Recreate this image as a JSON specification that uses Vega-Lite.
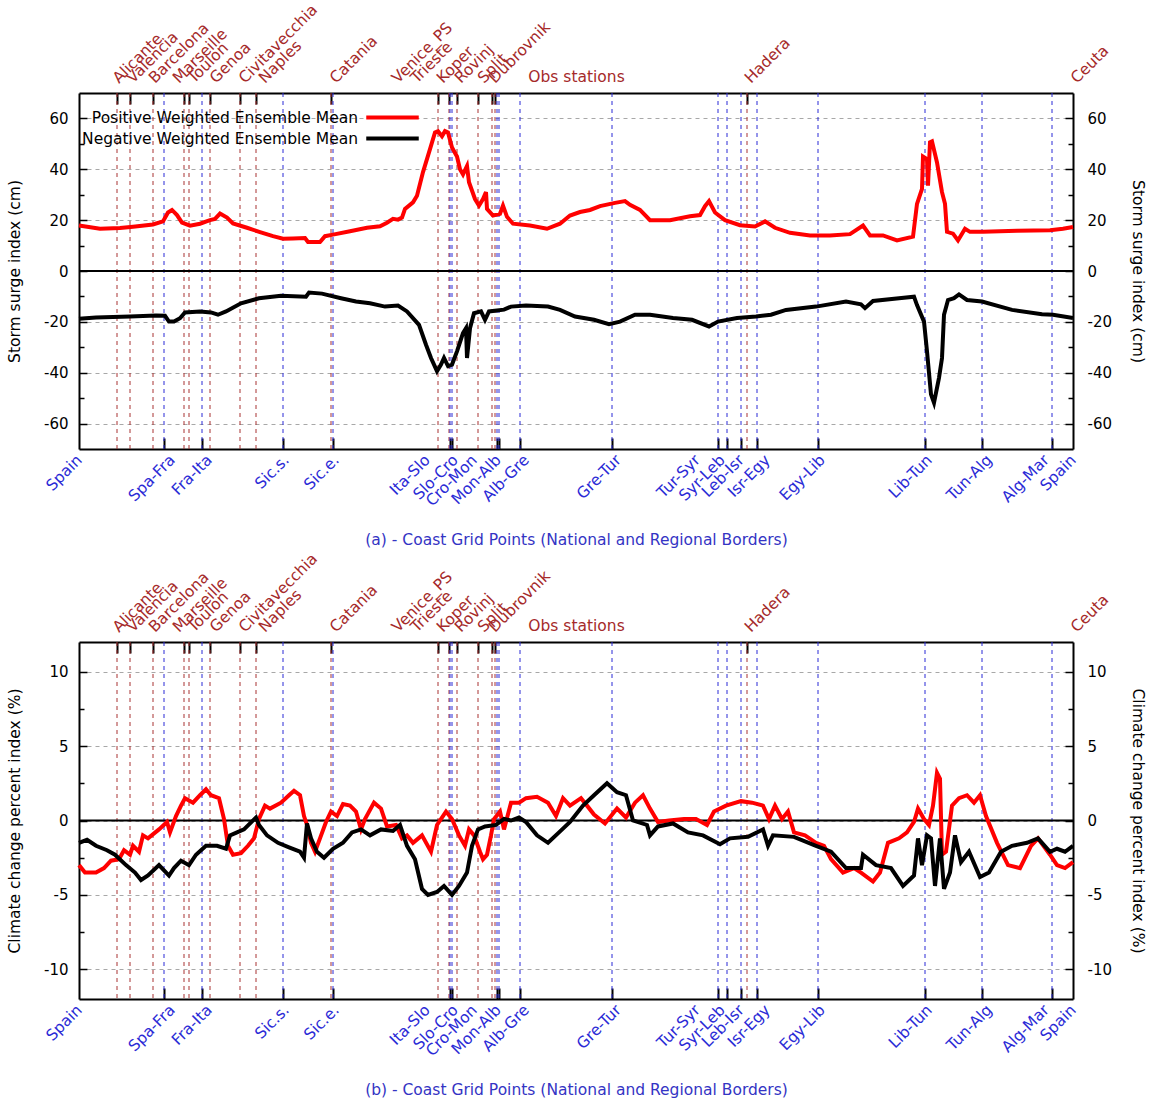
{
"$schema": "https://vega.github.io/schema/vega-lite/v6.json",
"background": "white",
"padding": {"left": 7, "top": 1, "right": 2, "bottom": 2},
"datasets": {
"st": [{"name":"Alicante","gp":38},{"name":"Valencia","gp":51},{"name":"Barcelona","gp":74},{"name":"Marseille","gp":105},{"name":"Toulon","gp":110},{"name":"Genoa","gp":131},{"name":"Civitavecchia","gp":161},{"name":"Naples","gp":177},{"name":"Catania","gp":252},{"name":"Venice_PS","gp":359},{"name":"Trieste","gp":370},{"name":"Koper","gp":378},{"name":"Rovinj","gp":399},{"name":"Split","gp":413},{"name":"Dubrovnik","gp":416},{"name":"Hadera","gp":668}],
"bd": [{"name":"Spa-Fra","gp":85},{"name":"Fra-Ita","gp":123},{"name":"Sic.s.","gp":204},{"name":"Sic.e.","gp":254},{"name":"Ita-Slo","gp":371},{"name":"Slo-Cro","gp":373},{"name":"Cro-Mon","gp":418},{"name":"Mon-Alb","gp":420},{"name":"Alb-Gre","gp":441},{"name":"Gre-Tur","gp":533},{"name":"Tur-Syr","gp":639},{"name":"Syr-Leb","gp":648},{"name":"Leb-Isr","gp":662},{"name":"Isr-Egy","gp":678},{"name":"Egy-Lib","gp":739},{"name":"Lib-Tun","gp":846},{"name":"Tun-Alg","gp":903},{"name":"Alg-Mar","gp":973}],
"a": [
{"s":"P","gp":0,"v":17.9},{"s":"P","gp":21,"v":16.6},{"s":"P","gp":41,"v":16.9},{"s":"P","gp":54,"v":17.4},{"s":"P","gp":74,"v":18.3},{"s":"P","gp":84,"v":19.5},{"s":"P","gp":89,"v":23},{"s":"P","gp":93,"v":24},{"s":"P","gp":98,"v":22},{"s":"P","gp":103,"v":19},{"s":"P","gp":111,"v":17.8},{"s":"P","gp":121,"v":18.6},{"s":"P","gp":131,"v":20},{"s":"P","gp":136,"v":20.5},{"s":"P","gp":141,"v":22.6},{"s":"P","gp":148,"v":21},{"s":"P","gp":154,"v":18.7},{"s":"P","gp":168,"v":17},{"s":"P","gp":181,"v":15.3},{"s":"P","gp":194,"v":13.7},{"s":"P","gp":204,"v":12.7},{"s":"P","gp":214,"v":12.8},{"s":"P","gp":226,"v":13},{"s":"P","gp":229,"v":11.4},{"s":"P","gp":241,"v":11.4},{"s":"P","gp":246,"v":13.7},{"s":"P","gp":254,"v":14.3},{"s":"P","gp":271,"v":15.6},{"s":"P","gp":288,"v":17},{"s":"P","gp":301,"v":17.6},{"s":"P","gp":308,"v":19},{"s":"P","gp":314,"v":20.5},{"s":"P","gp":319,"v":20.2},{"s":"P","gp":323,"v":21},{"s":"P","gp":326,"v":24.4},{"s":"P","gp":334,"v":27},{"s":"P","gp":338,"v":29.6},{"s":"P","gp":344,"v":38.9},{"s":"P","gp":351,"v":47.9},{"s":"P","gp":356,"v":54.5},{"s":"P","gp":359,"v":55},{"s":"P","gp":363,"v":53},{"s":"P","gp":366,"v":55},{"s":"P","gp":369,"v":54.5},{"s":"P","gp":373,"v":48.6},{"s":"P","gp":378,"v":45},{"s":"P","gp":381,"v":40},{"s":"P","gp":384,"v":38},{"s":"P","gp":388,"v":41.3},{"s":"P","gp":390,"v":34.9},{"s":"P","gp":396,"v":28.3},{"s":"P","gp":400,"v":25.7},{"s":"P","gp":404,"v":28.3},{"s":"P","gp":407,"v":31},{"s":"P","gp":408,"v":24.4},{"s":"P","gp":414,"v":21.8},{"s":"P","gp":421,"v":22.5},{"s":"P","gp":424,"v":25.7},{"s":"P","gp":428,"v":21.3},{"s":"P","gp":434,"v":18.6},{"s":"P","gp":451,"v":17.9},{"s":"P","gp":468,"v":16.6},{"s":"P","gp":481,"v":18.6},{"s":"P","gp":491,"v":21.8},{"s":"P","gp":501,"v":23.2},{"s":"P","gp":511,"v":24},{"s":"P","gp":521,"v":25.5},{"s":"P","gp":536,"v":26.8},{"s":"P","gp":546,"v":27.5},{"s":"P","gp":551,"v":26},{"s":"P","gp":561,"v":24},{"s":"P","gp":571,"v":20},{"s":"P","gp":591,"v":20},{"s":"P","gp":611,"v":21.5},{"s":"P","gp":621,"v":22},{"s":"P","gp":626,"v":25.5},{"s":"P","gp":630,"v":27.5},{"s":"P","gp":636,"v":23},{"s":"P","gp":646,"v":20},{"s":"P","gp":661,"v":18},{"s":"P","gp":676,"v":17.5},{"s":"P","gp":686,"v":19.5},{"s":"P","gp":696,"v":17},{"s":"P","gp":711,"v":15},{"s":"P","gp":731,"v":14},{"s":"P","gp":751,"v":14},{"s":"P","gp":771,"v":14.5},{"s":"P","gp":784,"v":17.9},{"s":"P","gp":791,"v":14},{"s":"P","gp":804,"v":14},{"s":"P","gp":818,"v":12},{"s":"P","gp":834,"v":13.5},{"s":"P","gp":838,"v":26.4},{"s":"P","gp":843,"v":32.3},{"s":"P","gp":844,"v":45},{"s":"P","gp":848,"v":44},{"s":"P","gp":849,"v":33.6},{"s":"P","gp":851,"v":50.6},{"s":"P","gp":853,"v":51},{"s":"P","gp":858,"v":42.7},{"s":"P","gp":863,"v":31},{"s":"P","gp":866,"v":26.4},{"s":"P","gp":868,"v":15.4},{"s":"P","gp":874,"v":14.7},{"s":"P","gp":879,"v":12},{"s":"P","gp":886,"v":16.6},{"s":"P","gp":891,"v":15.4},{"s":"P","gp":904,"v":15.4},{"s":"P","gp":938,"v":15.8},{"s":"P","gp":971,"v":16},{"s":"P","gp":984,"v":16.6},{"s":"P","gp":994,"v":17.3},
{"s":"N","gp":0,"v":-18.8},{"s":"N","gp":17,"v":-18.3},{"s":"N","gp":51,"v":-17.9},{"s":"N","gp":77,"v":-17.5},{"s":"N","gp":86,"v":-17.6},{"s":"N","gp":90,"v":-19.9},{"s":"N","gp":95,"v":-19.9},{"s":"N","gp":101,"v":-18.6},{"s":"N","gp":106,"v":-16.3},{"s":"N","gp":121,"v":-15.9},{"s":"N","gp":132,"v":-16.3},{"s":"N","gp":139,"v":-17.2},{"s":"N","gp":147,"v":-15.9},{"s":"N","gp":162,"v":-12.7},{"s":"N","gp":180,"v":-10.7},{"s":"N","gp":202,"v":-9.7},{"s":"N","gp":227,"v":-10.1},{"s":"N","gp":230,"v":-8.5},{"s":"N","gp":243,"v":-8.9},{"s":"N","gp":262,"v":-10.7},{"s":"N","gp":277,"v":-12},{"s":"N","gp":291,"v":-12.7},{"s":"N","gp":306,"v":-14},{"s":"N","gp":319,"v":-13.6},{"s":"N","gp":328,"v":-15.9},{"s":"N","gp":340,"v":-21.2},{"s":"N","gp":347,"v":-29},{"s":"N","gp":352,"v":-34.2},{"s":"N","gp":358,"v":-39.4},{"s":"N","gp":362,"v":-36.8},{"s":"N","gp":365,"v":-34.2},{"s":"N","gp":369,"v":-37.4},{"s":"N","gp":373,"v":-36.8},{"s":"N","gp":378,"v":-31.6},{"s":"N","gp":384,"v":-24.4},{"s":"N","gp":387,"v":-22.5},{"s":"N","gp":388,"v":-34.2},{"s":"N","gp":391,"v":-22.5},{"s":"N","gp":395,"v":-16.6},{"s":"N","gp":402,"v":-15.9},{"s":"N","gp":406,"v":-19.2},{"s":"N","gp":410,"v":-15.9},{"s":"N","gp":425,"v":-15.2},{"s":"N","gp":432,"v":-14},{"s":"N","gp":447,"v":-13.6},{"s":"N","gp":469,"v":-14},{"s":"N","gp":481,"v":-15.3},{"s":"N","gp":496,"v":-17.9},{"s":"N","gp":515,"v":-19.2},{"s":"N","gp":530,"v":-20.9},{"s":"N","gp":541,"v":-19.9},{"s":"N","gp":556,"v":-17.2},{"s":"N","gp":571,"v":-17.2},{"s":"N","gp":594,"v":-18.5},{"s":"N","gp":613,"v":-19.2},{"s":"N","gp":630,"v":-21.8},{"s":"N","gp":639,"v":-19.9},{"s":"N","gp":658,"v":-18.5},{"s":"N","gp":677,"v":-17.9},{"s":"N","gp":692,"v":-17.2},{"s":"N","gp":707,"v":-15.3},{"s":"N","gp":737,"v":-14},{"s":"N","gp":767,"v":-12},{"s":"N","gp":782,"v":-13.1},{"s":"N","gp":786,"v":-14.6},{"s":"N","gp":794,"v":-11.8},{"s":"N","gp":820,"v":-10.7},{"s":"N","gp":835,"v":-10.1},{"s":"N","gp":838,"v":-13.4},{"s":"N","gp":845,"v":-19.9},{"s":"N","gp":848,"v":-31.6},{"s":"N","gp":852,"v":-48.5},{"s":"N","gp":855,"v":-51.8},{"s":"N","gp":860,"v":-42},{"s":"N","gp":863,"v":-34.2},{"s":"N","gp":865,"v":-17.2},{"s":"N","gp":869,"v":-11.4},{"s":"N","gp":875,"v":-10.7},{"s":"N","gp":880,"v":-9.2},{"s":"N","gp":888,"v":-11.4},{"s":"N","gp":903,"v":-12},{"s":"N","gp":933,"v":-15.3},{"s":"N","gp":963,"v":-17},{"s":"N","gp":974,"v":-17.2},{"s":"N","gp":994,"v":-18.5}
],
"b": [
{"s":"P","gp":0,"v":-3.0},{"s":"P","gp":6,"v":-3.5},{"s":"P","gp":17,"v":-3.5},{"s":"P","gp":25,"v":-3.2},{"s":"P","gp":32,"v":-2.7},{"s":"P","gp":40,"v":-2.6},{"s":"P","gp":45,"v":-2.0},{"s":"P","gp":51,"v":-2.3},{"s":"P","gp":54,"v":-1.7},{"s":"P","gp":60,"v":-2.1},{"s":"P","gp":64,"v":-1.0},{"s":"P","gp":69,"v":-1.2},{"s":"P","gp":80,"v":-0.6},{"s":"P","gp":88,"v":-0.1},{"s":"P","gp":91,"v":-0.8},{"s":"P","gp":97,"v":0.3},{"s":"P","gp":102,"v":1.0},{"s":"P","gp":106,"v":1.5},{"s":"P","gp":114,"v":1.2},{"s":"P","gp":121,"v":1.7},{"s":"P","gp":127,"v":2.1},{"s":"P","gp":132,"v":1.7},{"s":"P","gp":140,"v":1.5},{"s":"P","gp":145,"v":0.1},{"s":"P","gp":149,"v":-1.7},{"s":"P","gp":154,"v":-2.3},{"s":"P","gp":162,"v":-2.2},{"s":"P","gp":169,"v":-1.7},{"s":"P","gp":175,"v":-1.2},{"s":"P","gp":180,"v":0.1},{"s":"P","gp":186,"v":1.0},{"s":"P","gp":191,"v":0.8},{"s":"P","gp":202,"v":1.2},{"s":"P","gp":210,"v":1.7},{"s":"P","gp":215,"v":2.0},{"s":"P","gp":221,"v":1.7},{"s":"P","gp":225,"v":0.3},{"s":"P","gp":228,"v":-0.3},{"s":"P","gp":232,"v":-1.5},{"s":"P","gp":236,"v":-2.1},{"s":"P","gp":241,"v":-1.2},{"s":"P","gp":247,"v":-0.1},{"s":"P","gp":252,"v":0.6},{"s":"P","gp":258,"v":0.3},{"s":"P","gp":264,"v":1.1},{"s":"P","gp":271,"v":1.0},{"s":"P","gp":277,"v":0.6},{"s":"P","gp":282,"v":-0.6},{"s":"P","gp":286,"v":0.1},{"s":"P","gp":295,"v":1.2},{"s":"P","gp":302,"v":0.8},{"s":"P","gp":308,"v":-0.4},{"s":"P","gp":317,"v":-0.3},{"s":"P","gp":323,"v":-1.2},{"s":"P","gp":328,"v":-1.0},{"s":"P","gp":334,"v":-1.5},{"s":"P","gp":343,"v":-1.0},{"s":"P","gp":352,"v":-2.1},{"s":"P","gp":358,"v":-0.3},{"s":"P","gp":367,"v":0.6},{"s":"P","gp":373,"v":0.1},{"s":"P","gp":380,"v":-1.0},{"s":"P","gp":386,"v":-1.7},{"s":"P","gp":390,"v":-0.6},{"s":"P","gp":395,"v":-1.0},{"s":"P","gp":401,"v":-2.1},{"s":"P","gp":404,"v":-2.6},{"s":"P","gp":408,"v":-2.3},{"s":"P","gp":412,"v":-1.0},{"s":"P","gp":415,"v":0.1},{"s":"P","gp":421,"v":0.6},{"s":"P","gp":425,"v":-0.6},{"s":"P","gp":432,"v":1.2},{"s":"P","gp":440,"v":1.2},{"s":"P","gp":447,"v":1.5},{"s":"P","gp":458,"v":1.6},{"s":"P","gp":469,"v":1.2},{"s":"P","gp":477,"v":0.3},{"s":"P","gp":484,"v":1.5},{"s":"P","gp":491,"v":1.0},{"s":"P","gp":502,"v":1.5},{"s":"P","gp":508,"v":1.0},{"s":"P","gp":515,"v":0.4},{"s":"P","gp":526,"v":-0.2},{"s":"P","gp":538,"v":0.8},{"s":"P","gp":547,"v":0.2},{"s":"P","gp":556,"v":1.2},{"s":"P","gp":564,"v":1.7},{"s":"P","gp":571,"v":0.8},{"s":"P","gp":579,"v":-0.1},{"s":"P","gp":590,"v":0.0},{"s":"P","gp":605,"v":0.1},{"s":"P","gp":617,"v":0.1},{"s":"P","gp":628,"v":-0.3},{"s":"P","gp":635,"v":0.6},{"s":"P","gp":647,"v":1.0},{"s":"P","gp":662,"v":1.3},{"s":"P","gp":673,"v":1.2},{"s":"P","gp":684,"v":1.0},{"s":"P","gp":690,"v":0.1},{"s":"P","gp":696,"v":1.0},{"s":"P","gp":703,"v":0.1},{"s":"P","gp":709,"v":0.6},{"s":"P","gp":715,"v":-0.8},{"s":"P","gp":726,"v":-1.0},{"s":"P","gp":737,"v":-1.5},{"s":"P","gp":745,"v":-1.7},{"s":"P","gp":752,"v":-2.6},{"s":"P","gp":764,"v":-3.5},{"s":"P","gp":775,"v":-3.2},{"s":"P","gp":782,"v":-3.5},{"s":"P","gp":794,"v":-4.1},{"s":"P","gp":801,"v":-3.5},{"s":"P","gp":809,"v":-1.5},{"s":"P","gp":820,"v":-1.2},{"s":"P","gp":828,"v":-0.8},{"s":"P","gp":835,"v":-0.1},{"s":"P","gp":839,"v":0.8},{"s":"P","gp":845,"v":0.1},{"s":"P","gp":850,"v":-0.3},{"s":"P","gp":854,"v":1.0},{"s":"P","gp":858,"v":3.2},{"s":"P","gp":861,"v":2.8},{"s":"P","gp":863,"v":-2.3},{"s":"P","gp":867,"v":-2.1},{"s":"P","gp":873,"v":1.0},{"s":"P","gp":880,"v":1.5},{"s":"P","gp":888,"v":1.7},{"s":"P","gp":895,"v":1.2},{"s":"P","gp":901,"v":1.7},{"s":"P","gp":907,"v":0.3},{"s":"P","gp":918,"v":-1.5},{"s":"P","gp":929,"v":-3.0},{"s":"P","gp":941,"v":-3.2},{"s":"P","gp":952,"v":-1.7},{"s":"P","gp":959,"v":-1.2},{"s":"P","gp":971,"v":-2.3},{"s":"P","gp":978,"v":-3.0},{"s":"P","gp":986,"v":-3.2},{"s":"P","gp":994,"v":-2.8},
{"s":"N","gp":0,"v":-1.5},{"s":"N","gp":8,"v":-1.3},{"s":"N","gp":17,"v":-1.7},{"s":"N","gp":28,"v":-2.0},{"s":"N","gp":36,"v":-2.3},{"s":"N","gp":47,"v":-3.0},{"s":"N","gp":56,"v":-3.5},{"s":"N","gp":62,"v":-4.0},{"s":"N","gp":69,"v":-3.7},{"s":"N","gp":80,"v":-3.0},{"s":"N","gp":90,"v":-3.7},{"s":"N","gp":95,"v":-3.2},{"s":"N","gp":102,"v":-2.7},{"s":"N","gp":110,"v":-3.0},{"s":"N","gp":117,"v":-2.3},{"s":"N","gp":127,"v":-1.7},{"s":"N","gp":138,"v":-1.7},{"s":"N","gp":147,"v":-1.9},{"s":"N","gp":151,"v":-1.0},{"s":"N","gp":158,"v":-0.8},{"s":"N","gp":165,"v":-0.6},{"s":"N","gp":177,"v":0.2},{"s":"N","gp":180,"v":-0.3},{"s":"N","gp":188,"v":-1.0},{"s":"N","gp":199,"v":-1.5},{"s":"N","gp":210,"v":-1.8},{"s":"N","gp":221,"v":-2.1},{"s":"N","gp":225,"v":-2.5},{"s":"N","gp":228,"v":-0.2},{"s":"N","gp":232,"v":-1.2},{"s":"N","gp":238,"v":-2.1},{"s":"N","gp":245,"v":-2.5},{"s":"N","gp":254,"v":-1.9},{"s":"N","gp":264,"v":-1.5},{"s":"N","gp":273,"v":-0.8},{"s":"N","gp":282,"v":-0.6},{"s":"N","gp":291,"v":-1.0},{"s":"N","gp":302,"v":-0.6},{"s":"N","gp":314,"v":-0.7},{"s":"N","gp":321,"v":-0.3},{"s":"N","gp":328,"v":-1.7},{"s":"N","gp":336,"v":-2.6},{"s":"N","gp":343,"v":-4.6},{"s":"N","gp":349,"v":-5.0},{"s":"N","gp":358,"v":-4.8},{"s":"N","gp":365,"v":-4.4},{"s":"N","gp":373,"v":-5.0},{"s":"N","gp":380,"v":-4.4},{"s":"N","gp":388,"v":-3.5},{"s":"N","gp":393,"v":-1.7},{"s":"N","gp":399,"v":-0.6},{"s":"N","gp":406,"v":-0.4},{"s":"N","gp":417,"v":-0.3},{"s":"N","gp":425,"v":0.1},{"s":"N","gp":432,"v":0.0},{"s":"N","gp":440,"v":0.2},{"s":"N","gp":447,"v":-0.1},{"s":"N","gp":458,"v":-1.0},{"s":"N","gp":469,"v":-1.5},{"s":"N","gp":480,"v":-0.8},{"s":"N","gp":491,"v":-0.1},{"s":"N","gp":504,"v":1.0},{"s":"N","gp":515,"v":1.7},{"s":"N","gp":528,"v":2.5},{"s":"N","gp":538,"v":1.9},{"s":"N","gp":547,"v":1.7},{"s":"N","gp":554,"v":0.0},{"s":"N","gp":568,"v":-0.3},{"s":"N","gp":571,"v":-1.0},{"s":"N","gp":579,"v":-0.4},{"s":"N","gp":594,"v":-0.2},{"s":"N","gp":609,"v":-0.8},{"s":"N","gp":624,"v":-1.0},{"s":"N","gp":641,"v":-1.6},{"s":"N","gp":651,"v":-1.2},{"s":"N","gp":669,"v":-1.1},{"s":"N","gp":684,"v":-0.6},{"s":"N","gp":689,"v":-1.7},{"s":"N","gp":694,"v":-1.0},{"s":"N","gp":715,"v":-1.1},{"s":"N","gp":737,"v":-1.7},{"s":"N","gp":752,"v":-2.1},{"s":"N","gp":767,"v":-3.2},{"s":"N","gp":782,"v":-3.2},{"s":"N","gp":784,"v":-2.3},{"s":"N","gp":797,"v":-3.0},{"s":"N","gp":812,"v":-3.2},{"s":"N","gp":824,"v":-4.4},{"s":"N","gp":835,"v":-3.7},{"s":"N","gp":839,"v":-1.2},{"s":"N","gp":843,"v":-3.0},{"s":"N","gp":848,"v":-1.0},{"s":"N","gp":852,"v":-1.2},{"s":"N","gp":856,"v":-4.4},{"s":"N","gp":861,"v":-1.2},{"s":"N","gp":865,"v":-4.6},{"s":"N","gp":871,"v":-3.5},{"s":"N","gp":876,"v":-1.0},{"s":"N","gp":882,"v":-2.8},{"s":"N","gp":890,"v":-2.1},{"s":"N","gp":901,"v":-3.8},{"s":"N","gp":910,"v":-3.5},{"s":"N","gp":922,"v":-2.1},{"s":"N","gp":933,"v":-1.7},{"s":"N","gp":948,"v":-1.5},{"s":"N","gp":959,"v":-1.2},{"s":"N","gp":971,"v":-2.1},{"s":"N","gp":978,"v":-1.9},{"s":"N","gp":986,"v":-2.1},{"s":"N","gp":994,"v":-1.7}
]
},
"width": 994, "height": 906,
"layer": [
{"data": {"name": "st"}, "mark": {"type": "rule", "color": "#a83232", "strokeDash": [4, 4], "strokeWidth": 1},
 "encoding": {"x": {"field": "gp", "type": "quantitative", "scale": {"domain": [0, 994], "nice": false, "zero": false},
  "axis": {"orient": "top", "values": [38,51,74,105,110,131,161,177,252,359,370,378,399,413,416,668], "labels": false, "ticks": true, "tickSize": -11, "tickWidth": 2, "tickColor": "black", "domain": true, "domainWidth": 2, "domainColor": "black", "grid": false, "title": null}},
  "y": {"datum": 70, "type": "quantitative", "scale": {"domain": [-70, 70], "range": [356, 0], "nice": false, "zero": false}, "axis": null}, "y2": {"datum": -70}}},
{"data": {"name": "bd"}, "mark": {"type": "rule", "color": "#2a2ad6", "strokeDash": [4, 4], "strokeWidth": 1},
 "encoding": {"x": {"field": "gp", "type": "quantitative", "scale": {"domain": [0, 994], "nice": false, "zero": false},
  "axis": {"orient": "bottom", "offset": -550, "values": [85,123,204,254,371,373,418,420,441,533,639,648,662,678,739,846,903,973], "labels": false, "ticks": true, "tickSize": -11, "tickWidth": 2, "tickColor": "black", "domain": true, "domainWidth": 2, "domainColor": "black", "grid": false, "title": null}},
  "y": {"datum": 70, "type": "quantitative", "scale": {"domain": [-70, 70], "range": [356, 0], "nice": false, "zero": false}, "axis": null}, "y2": {"datum": -70}}},
{"data": {"name": "st"}, "mark": {"type": "rule", "color": "#a83232", "strokeDash": [4, 4], "strokeWidth": 1},
 "encoding": {"x": {"field": "gp", "type": "quantitative", "scale": {"domain": [0, 994], "nice": false, "zero": false},
  "axis": {"orient": "top", "offset": -549, "values": [38,51,74,105,110,131,161,177,252,359,370,378,399,413,416,668], "labels": false, "ticks": true, "tickSize": -11, "tickWidth": 2, "tickColor": "black", "domain": true, "domainWidth": 2, "domainColor": "black", "grid": false, "title": null}},
  "y": {"datum": 12, "type": "quantitative", "scale": {"domain": [-12, 12], "range": [906, 549], "nice": false, "zero": false}, "axis": null}, "y2": {"datum": -12}}},
{"data": {"name": "bd"}, "mark": {"type": "rule", "color": "#2a2ad6", "strokeDash": [4, 4], "strokeWidth": 1},
 "encoding": {"x": {"field": "gp", "type": "quantitative", "scale": {"domain": [0, 994], "nice": false, "zero": false},
  "axis": {"orient": "bottom", "values": [85,123,204,254,371,373,418,420,441,533,639,648,662,678,739,846,903,973], "labels": false, "ticks": true, "tickSize": -11, "tickWidth": 2, "tickColor": "black", "domain": true, "domainWidth": 2, "domainColor": "black", "grid": false, "title": null}},
  "y": {"datum": 12, "type": "quantitative", "scale": {"domain": [-12, 12], "range": [906, 549], "nice": false, "zero": false}, "axis": null}, "y2": {"datum": -12}}},
{"data": {"name": "st"}, "mark": {"type": "rule", "opacity": 0},
 "encoding": {"x": {"field": "gp", "type": "quantitative", "scale": {"domain": [0, 994], "nice": false, "zero": false},
  "axis": {"orient": "top", "values": [36,50,72,96,111,133,162,182,253,315,334,360,378,401,412,668,994],
   "labelExpr": "['Alicante','Valencia','Barcelona','Marseille','Toulon','Genoa','Civitavecchia','Naples','Catania','Venice_PS','Trieste','Koper','Rovinj','Split','Dubrovnik','Hadera','Ceuta'][indexof([36,50,72,96,111,133,162,182,253,315,334,360,378,401,412,668,994], datum.value)]",
   "labelAngle": -45, "labelAlign": "left", "labelBaseline": "middle", "labelColor": "#a52a2a", "labelPadding": 13, "ticks": false, "domain": false, "grid": false,
   "labelOverlap": false, "labelFlush": false, "labelBound": false,
   "title": "Obs stations", "titleColor": "#a52a2a", "titleY": -17, "titleBaseline": "middle"}}}},
{"data": {"name": "st"}, "mark": {"type": "rule", "opacity": 0},
 "encoding": {"x": {"field": "gp", "type": "quantitative", "scale": {"domain": [0, 994], "nice": false, "zero": false},
  "axis": {"orient": "top", "offset": -549, "values": [36,50,72,96,111,133,162,182,253,315,334,360,378,401,412,668,994],
   "labelExpr": "['Alicante','Valencia','Barcelona','Marseille','Toulon','Genoa','Civitavecchia','Naples','Catania','Venice_PS','Trieste','Koper','Rovinj','Split','Dubrovnik','Hadera','Ceuta'][indexof([36,50,72,96,111,133,162,182,253,315,334,360,378,401,412,668,994], datum.value)]",
   "labelAngle": -45, "labelAlign": "left", "labelBaseline": "middle", "labelColor": "#a52a2a", "labelPadding": 13, "ticks": false, "domain": false, "grid": false,
   "labelOverlap": false, "labelFlush": false, "labelBound": false,
   "title": "Obs stations", "titleColor": "#a52a2a", "titleY": -17, "titleBaseline": "middle"}}}},
{"data": {"name": "bd"}, "mark": {"type": "rule", "opacity": 0},
 "encoding": {"x": {"field": "gp", "type": "quantitative", "scale": {"domain": [0, 994], "nice": false, "zero": false},
  "axis": {"orient": "bottom", "offset": -550, "values": [0,93,130,207,257,348,376,395,419,447,539,618,643,662,688,743,850,910,967,994],
   "labelExpr": "['Spain','Spa-Fra','Fra-Ita','Sic.s.','Sic.e.','Ita-Slo','Slo-Cro','Cro-Mon','Mon-Alb','Alb-Gre','Gre-Tur','Tur-Syr','Syr-Leb','Leb-Isr','Isr-Egy','Egy-Lib','Lib-Tun','Tun-Alg','Alg-Mar','Spain'][indexof([0,93,130,207,257,348,376,395,419,447,539,618,643,662,688,743,850,910,967,994], datum.value)]",
   "labelAngle": -45, "labelAlign": "right", "labelBaseline": "middle", "labelColor": "#2b2bd6", "labelPadding": 8, "ticks": false, "domain": false, "grid": false,
   "labelOverlap": false, "labelFlush": false, "labelBound": false,
   "title": "(a) - Coast Grid Points (National and Regional Borders)", "titleColor": "#3434c4", "titleY": 90, "titleBaseline": "middle"}}}},
{"data": {"name": "bd"}, "mark": {"type": "rule", "opacity": 0},
 "encoding": {"x": {"field": "gp", "type": "quantitative", "scale": {"domain": [0, 994], "nice": false, "zero": false},
  "axis": {"orient": "bottom", "values": [0,93,130,207,257,348,376,395,419,447,539,618,643,662,688,743,850,910,967,994],
   "labelExpr": "['Spain','Spa-Fra','Fra-Ita','Sic.s.','Sic.e.','Ita-Slo','Slo-Cro','Cro-Mon','Mon-Alb','Alb-Gre','Gre-Tur','Tur-Syr','Syr-Leb','Leb-Isr','Isr-Egy','Egy-Lib','Lib-Tun','Tun-Alg','Alg-Mar','Spain'][indexof([0,93,130,207,257,348,376,395,419,447,539,618,643,662,688,743,850,910,967,994], datum.value)]",
   "labelAngle": -45, "labelAlign": "right", "labelBaseline": "middle", "labelColor": "#2b2bd6", "labelPadding": 8, "ticks": false, "domain": false, "grid": false,
   "labelOverlap": false, "labelFlush": false, "labelBound": false,
   "title": "(b) - Coast Grid Points (National and Regional Borders)", "titleColor": "#3434c4", "titleY": 90, "titleBaseline": "middle"}}}},
{"data": {"values": [{}]}, "mark": {"type": "rule", "color": "black", "strokeWidth": 2},
 "encoding": {"y": {"datum": 0, "type": "quantitative", "scale": {"domain": [-70, 70], "range": [356, 0], "nice": false, "zero": false},
  "axis": {"orient": "left", "values": [-50,-30,-10,10,30,50], "labels": false, "ticks": true, "tickSize": -5, "tickWidth": 1.5, "tickColor": "black", "domain": false, "grid": false, "title": null}}}},
{"data": {"values": [{}]}, "mark": {"type": "rule", "color": "black", "strokeWidth": 2},
 "encoding": {"y": {"datum": 0, "type": "quantitative", "scale": {"domain": [-12, 12], "range": [906, 549], "nice": false, "zero": false},
  "axis": {"orient": "left", "values": [-7.5,-2.5,2.5,7.5], "labels": false, "ticks": true, "tickSize": -5, "tickWidth": 1.5, "tickColor": "black", "domain": false, "grid": false, "title": null}}}},
{"data": {"name": "a"}, "mark": {"type": "line", "strokeWidth": 4},
 "encoding": {
  "x": {"field": "gp", "type": "quantitative", "scale": {"domain": [0, 994], "nice": false, "zero": false}, "axis": null},
  "y": {"field": "v", "type": "quantitative", "scale": {"domain": [-70, 70], "range": [356, 0], "nice": false, "zero": false},
   "axis": {"orient": "left", "values": [-60,-40,-20,0,20,40,60], "labelExpr": "'' + datum.value", "labelFontSize": 15, "tickSize": -8, "tickWidth": 1.5, "tickColor": "black", "labelPadding": 19,
    "domain": true, "domainWidth": 2, "domainColor": "black",
    "grid": true, "gridDash": [4, 4], "gridColor": "#a8a8a8", "gridWidth": 1, "title": "Storm surge index (cm)", "titlePadding": 21}},
  "color": {"field": "s", "type": "nominal", "scale": {"domain": ["P", "N"], "range": ["#ff0000", "#000000"]},
   "legend": {"orient": "none", "legendX": 301, "legendY": 12, "title": null, "symbolType": "M-2.5,0H2.5", "symbolSize": 441, "symbolStrokeWidth": 4,
    "labelFontSize": 15.5, "labelFont": "DejaVu Sans", "labelColor": "black", "labelAlign": "right", "labelOffset": -47, "rowPadding": 0, "padding": 0, "labelLimit": 0,
    "labelExpr": "datum.label == 'P' ? 'Positive Weighted Ensemble Mean' : 'Negative Weighted Ensemble Mean'"}}
 }},
{"data": {"name": "b"}, "mark": {"type": "line", "strokeWidth": 4},
 "encoding": {
  "x": {"field": "gp", "type": "quantitative", "scale": {"domain": [0, 994], "nice": false, "zero": false}, "axis": null},
  "y": {"field": "v", "type": "quantitative", "scale": {"domain": [-12, 12], "range": [906, 549], "nice": false, "zero": false},
   "axis": {"orient": "left", "values": [-10,-5,0,5,10], "labelExpr": "'' + datum.value", "labelFontSize": 15, "tickSize": -8, "tickWidth": 1.5, "tickColor": "black", "labelPadding": 19,
    "domain": true, "domainWidth": 2, "domainColor": "black",
    "grid": true, "gridDash": [4, 4], "gridColor": "#a8a8a8", "gridWidth": 1, "title": "Climate change percent index (%)", "titlePadding": 21}},
  "color": {"field": "s", "type": "nominal", "scale": {"domain": ["P", "N"], "range": ["#ff0000", "#000000"]}, "legend": null}
 }},
{"data": {"values": [{}]}, "mark": {"type": "rule", "opacity": 0},
 "encoding": {"y": {"datum": 0, "type": "quantitative", "scale": {"domain": [-70, 70], "range": [356, 0], "nice": false, "zero": false},
  "axis": {"orient": "right", "values": [-60,-40,-20,0,20,40,60], "labelExpr": "'' + datum.value", "labelFontSize": 15, "tickSize": -8, "tickWidth": 1.5, "tickColor": "black", "labelPadding": 22,
   "domain": true, "domainWidth": 2, "domainColor": "black", "grid": false, "title": "Storm surge index (cm)", "titlePadding": 18}}}},
{"data": {"values": [{}]}, "mark": {"type": "rule", "opacity": 0},
 "encoding": {"y": {"datum": 0, "type": "quantitative", "scale": {"domain": [-70, 70], "range": [356, 0], "nice": false, "zero": false},
  "axis": {"orient": "right", "values": [-50,-30,-10,10,30,50], "labels": false, "tickSize": -5, "tickWidth": 1.5, "tickColor": "black", "domain": false, "grid": false, "title": null}}}},
{"data": {"values": [{}]}, "mark": {"type": "rule", "opacity": 0},
 "encoding": {"y": {"datum": 0, "type": "quantitative", "scale": {"domain": [-12, 12], "range": [906, 549], "nice": false, "zero": false},
  "axis": {"orient": "right", "values": [-10,-5,0,5,10], "labelExpr": "'' + datum.value", "labelFontSize": 15, "tickSize": -8, "tickWidth": 1.5, "tickColor": "black", "labelPadding": 22,
   "domain": true, "domainWidth": 2, "domainColor": "black", "grid": false, "title": "Climate change percent index (%)", "titlePadding": 18}}}},
{"data": {"values": [{}]}, "mark": {"type": "rule", "opacity": 0},
 "encoding": {"y": {"datum": 0, "type": "quantitative", "scale": {"domain": [-12, 12], "range": [906, 549], "nice": false, "zero": false},
  "axis": {"orient": "right", "values": [-7.5,-2.5,2.5,7.5], "labels": false, "tickSize": -5, "tickWidth": 1.5, "tickColor": "black", "domain": false, "grid": false, "title": null}}}}
],
"resolve": {"scale": {"y": "independent"}, "axis": {"x": "independent", "y": "independent"}},
"config": {
 "font": "DejaVu Sans",
 "view": {"stroke": null},
 "axis": {"labelFont": "DejaVu Sans", "titleFont": "DejaVu Sans", "labelFontSize": 15.5, "titleFontSize": 15.5, "titleFontWeight": "normal", "labelColor": "black", "titleColor": "black", "domain": false},
 "legend": {"labelFont": "DejaVu Sans"}
}
}
